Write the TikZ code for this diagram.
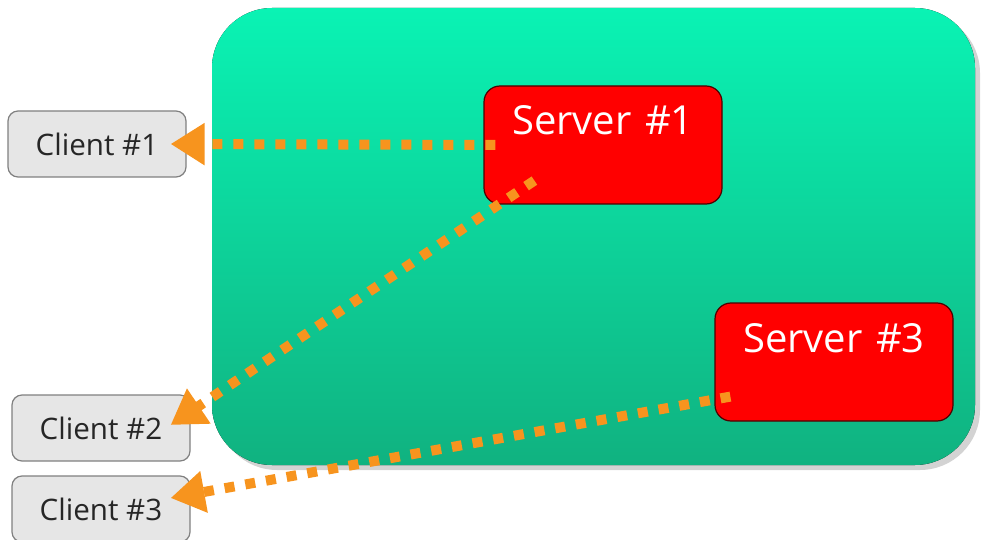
\documentclass[tikz,border=0pt]{standalone}
\usepackage{fontspec}
\setmainfont{Open Sans}
\usepackage{tikz}
\usetikzlibrary{arrows.meta, shadows, calc}
\definecolor{zoneTop}{RGB}{10,243,180}
\definecolor{zoneBottom}{RGB}{16,178,128}
\definecolor{serverRed}{RGB}{255,0,0}
\definecolor{clientGray}{RGB}{230,230,230}
\definecolor{linkOrange}{RGB}{247,148,30}

\tikzset{
  server/.style={draw=black!70!red, line width=0.6pt, fill=serverRed, rounded corners=8pt,
    inner sep=0pt, minimum width=119pt, text width=119pt, align=center,
    text height=24.5pt, text depth=34.5pt, text=white, font=\fontsize{20}{24}\selectfont},
  client/.style={draw=black!50, line width=0.6pt, fill=clientGray, rounded corners=5pt,
    inner sep=0pt, minimum width=89pt, minimum height=33pt, text=black!85,
    font=\fontsize{14.8}{17}\selectfont},
  link/.style={draw=linkOrange, line width=5pt, dash pattern=on 5pt off 5.5pt,
    -{Triangle[length=17pt, width=20pt]}},
}

\begin{document}
\begin{tikzpicture}[x=0.5pt, y=-0.5pt]
\useasboundingbox (0,0) rectangle (981,540);
% green zone holding the servers
\fill[top color=zoneTop, bottom color=zoneBottom, rounded corners=30pt,
  drop shadow={shadow xshift=2.5pt, shadow yshift=-2.5pt, opacity=0.35}]
  (212,8) rectangle (975,465);

\node[server] (server1) at (603,145) {Server \#1};
\node[server] (server3) at (834,362) {Server \#3};

\node[client] (client1) at (97,144) {Client \#1};
\node[client] (client2) at (101,428) {Client \#2};
\node[client] (client3) at (101,509) {Client \#3};

\coordinate (s1a) at ($(server1.west)+(12,0)$);
\coordinate (s1b) at ($(server1.south west)+(51,-24)$);
\coordinate (s3a) at ($(server3.south west)+(16,-25)$);

\draw[link] (s1a) -- ($(client1.east)+(-16,0)$);
\draw[link] (s1b) -- ($(client2.east)+(-20,-3)$);
\draw[link] (s3a) -- ($(client3.east)+(-20,-11)$);
\end{tikzpicture}
\end{document}
